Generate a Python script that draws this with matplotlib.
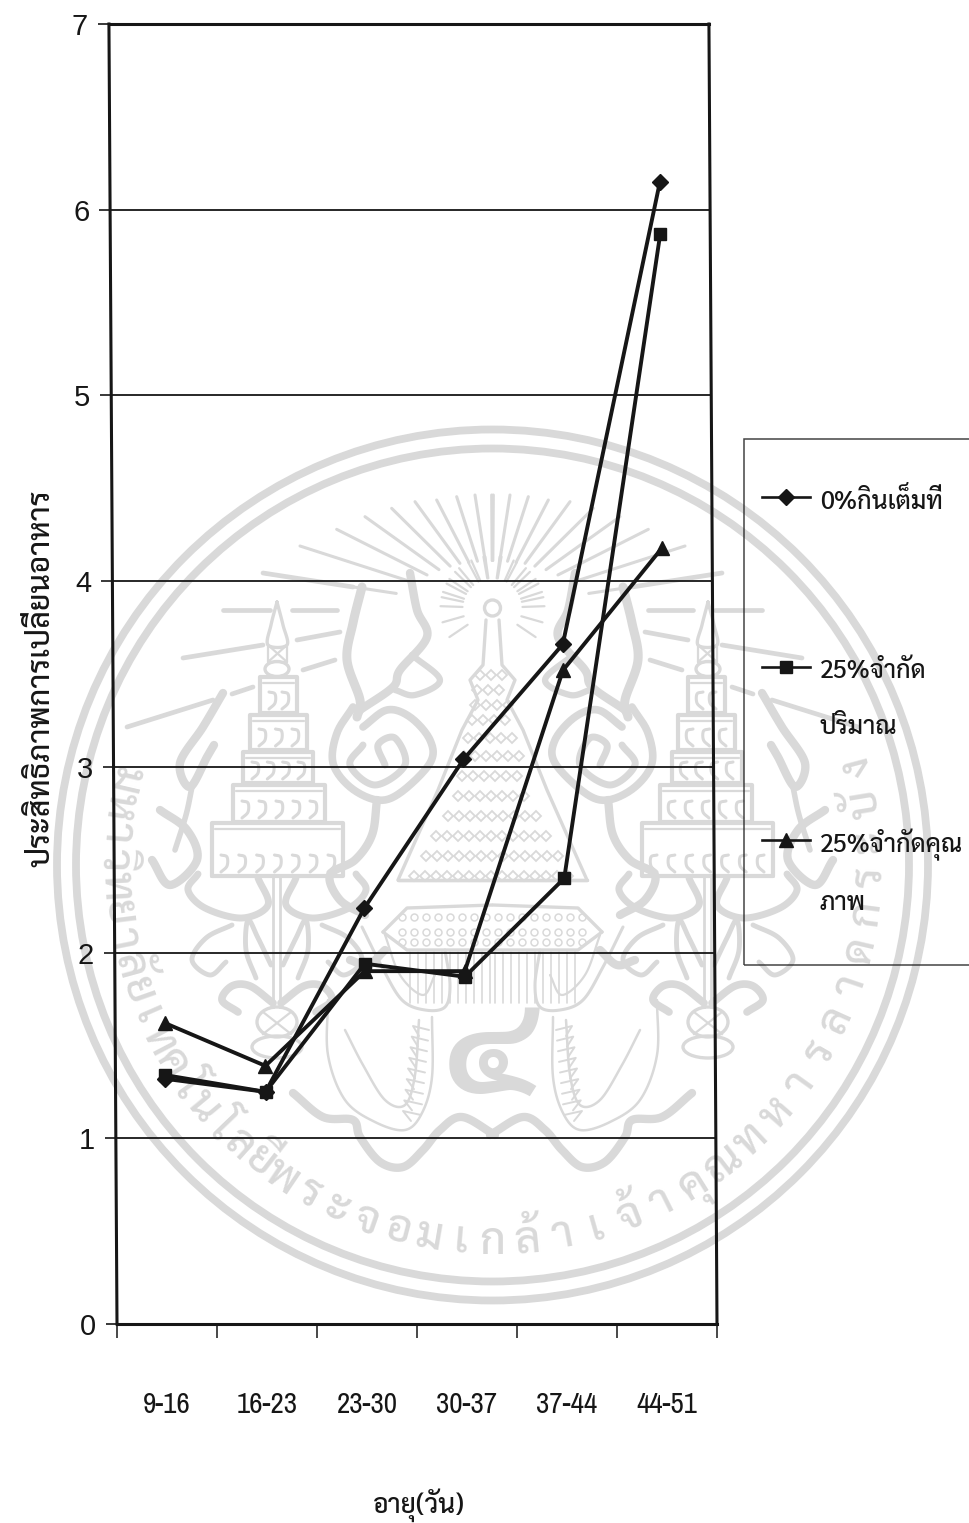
import numpy as np
import matplotlib
matplotlib.use('Agg')
import matplotlib.pyplot as plt
from matplotlib.legend_handler import HandlerLine2D
from matplotlib.lines import Line2D
from matplotlib.patches import Circle, Ellipse
from matplotlib.transforms import Affine2D

WIDTH, HEIGHT = 969, 1523
plt.rcParams['font.family'] = ['Liberation Sans', 'DejaVu Sans']
THAI = ['Sarabun', 'Liberation Sans']
NARROW = ['Archivo Narrow', 'Roboto Condensed', 'Liberation Sans']
INK = '#161616'
SEAL = '#d9d9d9'

age_ranges = ['9-16', '16-23', '23-30', '30-37', '37-44', '44-51']
full_feed = [1.32, 1.25, 2.24, 3.04, 3.66, 6.15]
limit_amount = [1.34, 1.25, 1.94, 1.87, 2.40, 5.87]
limit_quality = [1.62, 1.39, 1.90, 1.90, 3.52, 4.18]
series_labels = ['0%กินเต็มที่\n ', '25%จำกัด\nปริมาณ', '25%จำกัดคุณ\nภาพ']
y_label = 'ประสิทธิภาพการเปลี่ยนอาหาร'
x_label = 'อายุ(วัน)'
seal_text = 'มหาวิทยาลัยเทคโนโลยีพระจอมเกล้าเจ้าคุณทหารลาดกระบัง'

fig = plt.figure(figsize=(WIDTH / 100, HEIGHT / 100), dpi=100, facecolor='white')

# ---- university seal printed behind the chart, drawn in pixel coordinates ----
bg = fig.add_axes([0, 0, 1, 1], zorder=0)
bg.set_xlim(0, WIDTH)
bg.set_ylim(HEIGHT, 0)
bg.axis('off')
CX, CY = 492.5, 865


def smooth(points, n=14):
    pts = np.asarray(points, float)
    p = np.vstack([2 * pts[0] - pts[1], pts, 2 * pts[-1] - pts[-2]])
    out = []
    for i in range(1, len(p) - 2):
        for t in np.linspace(0, 1, n, endpoint=False):
            out.append(0.5 * (2 * p[i] + (p[i + 1] - p[i - 1]) * t
                              + (2 * p[i - 1] - 5 * p[i] + 4 * p[i + 1] - p[i + 2]) * t ** 2
                              + (3 * p[i] - p[i - 1] - 3 * p[i + 1] + p[i + 2]) * t ** 3))
    out.append(pts[-1])
    return np.array(out)


def both_sides(points, lw=3.0, curve=True):
    xy = smooth(points) if curve else np.asarray(points, float)
    for xs in (xy[:, 0], 2 * CX - xy[:, 0]):
        bg.plot(xs, xy[:, 1], color=SEAL, lw=lw, solid_capstyle='round', solid_joinstyle='round')


for radius in (435.5, 416.5):
    bg.add_patch(Circle((CX, CY), radius, fill=False, ec=SEAL, lw=5.6))

# lettering around the lower part of the ring, one cluster at a time
clusters = []
for ch in seal_text:
    if clusters and ch in 'ัิีึืุู่้๊๋์็ํ':
        clusters[-1] += ch
    else:
        clusters.append(ch)
last = len(clusters) - 1
for i, cluster in enumerate(clusters):
    deg = np.interp(i, [0, 17, 24, 30, last], [-103, -34, 0, 32, 105])
    th = np.radians(deg)
    bg.text(CX + 389 * np.sin(th), CY + 389 * np.cos(th), cluster, color=SEAL,
            family='Sarabun', weight=500, fontsize=32, rotation=deg,
            rotation_mode='anchor', ha='center', va='baseline')

# sun rays above the central spire
ray_tips = [(1300, 255), (1245, 255), (1190, 260), (1130, 270), (1065, 275), (995, 295),
            (915, 320), (830, 358), (720, 408), (610, 490)]
SUN = np.array([492.5, 608.0])
for zx, zy in ray_tips:
    tip = np.array([zx / 3 + 60, zy / 3 + 410])
    d = tip - SUN
    both_sides([SUN + d * 0.42, tip], lw=2.2, curve=False)
for ang in np.radians([12, 28, 44, 62, 80, 98, 114, 130, 146, 162, 178, 196, 214]):
    d = np.array([-np.cos(np.radians(180) - ang + np.pi), -np.sin(ang)])
    both_sides([SUN + d * 30, SUN + d * 52], lw=1.6, curve=False)
for seg in [((127, 727), (213, 700)), ((232, 694), (253, 687)), ((183, 658), (263, 645)),
            ((223, 610), (270, 610)), ((292, 610), (337, 610)), ((297, 640), (340, 632)),
            ((303, 670), (335, 660)), ((263, 573), (353, 587))]:
    both_sides(seg, lw=3.4, curve=False)

# side pagodas: stacked tiers with a small curl frieze
tiers = [(260, 297, 677, 713), (250, 307, 715, 750), (243, 313, 752, 783),
         (233, 325, 785, 822), (212, 343, 823, 876)]
for x0, x1, y0, y1 in tiers:
    both_sides([(x0, y1), (x0, y0), (x1, y0), (x1, y1), (x0, y1)], lw=3.0, curve=False)
    both_sides([(x0 + 3, y0 + 6), (x1 - 3, y0 + 6)], lw=1.6, curve=False)
    count = max(1, int((x1 - x0) / 17))
    for xc in np.linspace(x0 + 12, x1 - 12, count):
        both_sides([(xc - 3, y1 - 4), (xc + 3, y1 - 10), (xc + 3, y1 - 19), (xc - 3, y1 - 21)], lw=2.2)
both_sides([(277, 602), (271, 625), (268, 645), (287, 645), (283, 625), (277, 602)], lw=2.4)
both_sides([(268, 645), (268, 662), (287, 662), (287, 645), (268, 662)], lw=1.6, curve=False)
both_sides([(287, 662), (268, 645)], lw=1.6, curve=False)
for sign_x in (277, 2 * CX - 277):
    bg.add_patch(Ellipse((sign_x, 669), 24, 15, fill=False, ec=SEAL, lw=2.4))
    bg.add_patch(Ellipse((sign_x, 1022), 40, 30, fill=False, ec=SEAL, lw=2.4))
    bg.add_patch(Ellipse((sign_x, 1047), 50, 22, fill=False, ec=SEAL, lw=2.4))
    bg.plot([sign_x - 3.5] * 2, [876, 1007], color=SEAL, lw=2)
    bg.plot([sign_x + 3.5] * 2, [876, 1007], color=SEAL, lw=2)
    bg.plot([sign_x - 14, sign_x + 14], [1012, 1034], color=SEAL, lw=1.6)
    bg.plot([sign_x - 14, sign_x + 14], [1034, 1012], color=SEAL, lw=1.6)

# scrollwork beneath each pagoda, both flanks of its stem
for flank in (-1, 1):
    def scroll(pts, lw=4.0):
        both_sides([(277 + flank * (277 - x), y) for x, y in pts], lw=lw)
    scroll([(258, 878), (268, 905), (242, 918), (205, 908), (188, 890), (198, 874)], 5)
    scroll([(273, 1003), (250, 986), (232, 986), (222, 1000), (238, 1012)], 5.5)
    scroll([(271, 965), (258, 938), (248, 920), (246, 950), (256, 978)], 3.5)
    scroll([(232, 925), (206, 938), (192, 960), (210, 975), (226, 962)], 3.5)

# outer and centre flame trees with their large rolled leaves
both_sides([(223, 693), (203, 727), (180, 763), (190, 787), (207, 757), (214, 745)], 6)
both_sides([(192, 787), (186, 815), (175, 850)], 4)
both_sides([(160, 810), (187, 830), (197, 860), (170, 885), (152, 860)], 6)
both_sides([(362, 587), (353, 623), (347, 660), (360, 700), (357, 717)], 6.5)
both_sides([(410, 573), (417, 610), (427, 637), (400, 670), (393, 687), (360, 710)], 6)
both_sides([(412, 655), (440, 680), (415, 695), (395, 690)], 4.5)
both_sides([(353, 707), (337, 733), (333, 763), (350, 787), (377, 800), (400, 793), (430, 763),
            (430, 740), (410, 717), (387, 710), (363, 727)], 5.5)
both_sides([(363, 745), (350, 765), (375, 785), (405, 765), (395, 738), (378, 745), (385, 765)], 5)
both_sides([(377, 800), (372, 835), (355, 860), (330, 875), (340, 900), (365, 915)], 6)
both_sides([(350, 960), (368, 965), (385, 950)], 6)

# base wave running under the nagas
both_sides([(293, 1093), (323, 1117), (353, 1120), (360, 1137), (380, 1162), (403, 1167),
            (423, 1150), (440, 1130), (462, 1117), (495, 1135)], 6)

# nagas flanking the central spire
both_sides([(553, 1017), (553, 1077), (563, 1113), (580, 1130), (610, 1122), (640, 1100), (657, 1055), (657, 1000)], 1.8)
both_sides([(566, 1020), (570, 1075), (580, 1105), (600, 1100), (622, 1065), (640, 1030)], 1.8)
both_sides([(623, 927), (603, 967), (583, 1000), (560, 1010), (540, 1007), (535, 985), (540, 950)], 2.2)
both_sides([(600, 935), (585, 975), (562, 995), (550, 975)], 1.6)
for t in np.linspace(0, 1, 9):
    yy = 1030 + 85 * t
    both_sides([(556 + 8 * t, yy), (572 + 10 * t, yy - 4), (566 + 8 * t, yy + 6)], 1.4, curve=False)

# central spire and its ornamented platform
bg.add_patch(Circle((CX, 608), 8, fill=False, ec=SEAL, lw=2.4))
both_sides([(486, 620), (483, 665), (470, 680), (478, 700), (462, 730), (438, 790),
            (398, 880)], 2.4, curve=False)
for y, half in [(675, 12), (690, 15), (705, 17), (720, 20), (738, 24), (756, 28), (776, 30), (796, 34),
                (816, 44), (836, 56), (856, 66), (876, 78)]:
    xs = np.arange(-half, half + 0.1, 11) + CX
    bg.plot(xs, np.full_like(xs, y), ls='none', marker='D', ms=5, mfc='none', mec=SEAL, mew=1.3)
both_sides([(398, 880), (587, 880)], 2.4, curve=False)
both_sides([(383, 932), (407, 908), (492, 905)], 2.4, curve=False)
both_sides([(383, 932), (407, 950), (492, 950)], 2.4, curve=False)
for y in (917, 932, 942):
    xs = np.arange(-90, 90.1, 12) + CX
    bg.plot(xs, np.full_like(xs, y), ls='none', marker='o', ms=5, mfc='none', mec=SEAL, mew=1.1)
for x in np.arange(410, 492, 8):
    both_sides([(x, 952), (x, 1003)], 1.2, curve=False)
bg.text(CX - 2, 1058, '๔', family='Sarabun', weight='bold', fontsize=100, color=SEAL,
        ha='center', va='center')

# ---- line chart; the scanned page leans slightly, so the axes carry a small shear ----
AX_L, AX_R, AX_T, AX_B = 117, 717, 24, 1324
ax = fig.add_axes([AX_L / WIDTH, 1 - AX_B / HEIGHT, (AX_R - AX_L) / WIDTH, (AX_B - AX_T) / HEIGHT], zorder=2)
ax.patch.set_visible(False)
base_y = HEIGHT - AX_B
lean = -0.0062
shear = Affine2D.from_values(1, 0, lean, 1, -lean * base_y, 0)
skewed = ax.transData + shear

ax.set_xlim(0, len(age_ranges))
ax.set_ylim(0, 7)
centres = np.arange(len(age_ranges)) + 0.5
line_kw = dict(color=INK, lw=2.8, ms=9, clip_on=False, zorder=4, transform=skewed)
l1, = ax.plot(centres, full_feed, marker='D', label=series_labels[0], **{**line_kw, 'ms': 8})
l2, = ax.plot(centres, limit_amount, marker='s', label=series_labels[1], **line_kw)
l3, = ax.plot(centres, limit_quality, marker='^', label=series_labels[2], **{**line_kw, 'ms': 10})

ax.set_yticks(range(8))
ax.set_xticks(np.arange(len(age_ranges) + 1))
ax.set_xticklabels([])
ax.set_xticks(centres, minor=True)
ax.set_xticklabels(age_ranges, minor=True, family=NARROW, fontsize=21, color=INK)
ax.tick_params(axis='y', length=8, width=1.2, color=INK, pad=7, labelsize=21, labelcolor=INK)
ax.tick_params(axis='x', which='major', length=10, width=1.1, color=INK)
ax.tick_params(axis='x', which='minor', length=0, pad=48)
ax.grid(axis='y', color=INK, lw=1.3)
ax.set_axisbelow(True)

for tick in ax.yaxis.get_major_ticks():
    for art in (tick.tick1line, tick.gridline, tick.label1):
        art.set_transform(art.get_transform() + shear)
    tick.gridline.set_clip_on(False)
for spine in ax.spines.values():
    spine.set_linewidth(2.2)
    spine.set_edgecolor(INK)
    spine.set_transform(spine.get_transform() + shear)

ax.set_ylabel(y_label, family=THAI, fontsize=22, weight=500, color=INK, va='center')
ax.yaxis.set_label_coords((41 - AX_L) / (AX_R - AX_L), (AX_B - 678) / (AX_B - AX_T))
ax.set_xlabel(x_label, family=THAI, fontsize=19, weight=500, color=INK, va='center')
ax.xaxis.set_label_coords((419 - AX_L) / (AX_R - AX_L), (AX_B - 1505) / (AX_B - AX_T))


class FirstLineKey(HandlerLine2D):
    """Legend key set beside the first line of a two-line label, reaching left into the padding."""

    def create_artists(self, legend, orig_handle, xdescent, ydescent, width, height, fontsize, trans):
        y = height / 2 + 33 * 0.72
        key = Line2D([-30.5 * 0.72, -6.5 * 0.72, 17.5 * 0.72], [y, y, y])
        key.update_from(orig_handle)
        key.set_markevery([1])
        key.set_linewidth(1.9)
        key.set_transform(trans)
        key.set_clip_on(False)
        return [key]


legend = fig.legend([l1, l2, l3], series_labels, loc='upper left',
                    bbox_to_anchor=(743.5 / WIDTH, 1 - 439 / HEIGHT), borderaxespad=0,
                    handler_map={Line2D: FirstLineKey()}, prop={'family': THAI, 'size': 18, 'weight': 500},
                    borderpad=1.96, labelspacing=3.56, handlelength=0.7, handletextpad=0.4,
                    frameon=True, fancybox=False, facecolor='none', edgecolor=INK, framealpha=None)
legend.get_frame().set_linewidth(1.1)
legend.set_zorder(3)
for text in legend.get_texts():
    text.set_color(INK)
    text.set_linespacing(2.6)

fig.savefig('out.png', dpi=100, facecolor='white')
